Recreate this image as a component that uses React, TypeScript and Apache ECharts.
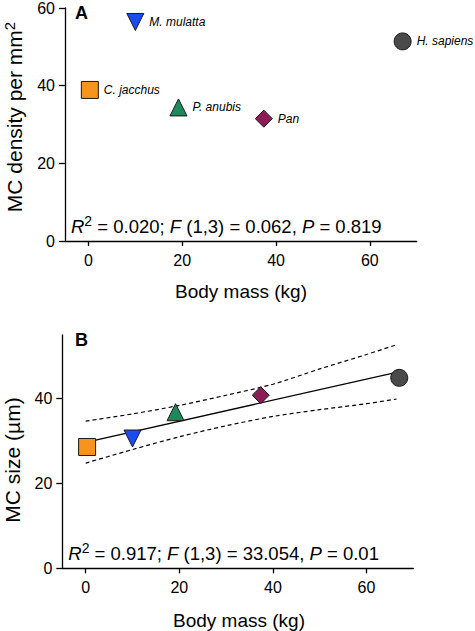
import React, { useEffect, useRef } from "react";
import * as echarts from "echarts";

const species = ["C. jacchus", "M. mulatta", "P. anubis", "Pan", "H. sapiens"];
const bodyMass = [0.3, 10, 19.2, 37.4, 67];
const mcDensity = [38.9, 56.4, 34.4, 31.5, 51.4];
const mcSize = [28.6, 30.6, 36.8, 40.8, 44.9];

const xTicks = [0, 20, 40, 60];
const yTicksA = [0, 20, 40, 60];
const yTicksB = [0, 20, 40];

// regression fit and 95% band for panel B
const fitX = [0, 66.4];
const fitY = [29.7, 46.2];
const bandX = [0, 10, 20, 30, 40, 50, 60, 66.4];
const bandUpper = [34.7, 36.4, 38.4, 40.8, 43.4, 47.0, 50.4, 52.7];
const bandLower = [24.8, 28.0, 31.0, 33.6, 35.8, 37.4, 38.8, 39.9];

const statsA = ["0.020", "1,3", "0.062", "0.819"];
const statsB = ["0.917", "1,3", "33.054", "0.01"];

const FONT = "'Liberation Sans', Arial, Helvetica, sans-serif";
const symbols = ["rect", "triangle", "triangle", "diamond", "circle"];
const rotations = [0, 180, 0, 0, 0];
const colors = ["#F7941D", "#1A4CF0", "#1C8A5A", "#8C1C55", "#4A4A4A"];

function statText(s: string[]) {
  return `{it|R}{sup|2}{n| = ${s[0]}; }{it|F}{n| (${s[1]}) = ${s[2]}, }{it|P}{n| = ${s[3]}}`;
}

function pointData(ys: number[]) {
  return species.map((name, i) => ({
    name,
    value: [bodyMass[i], ys[i]],
    symbol: symbols[i],
    symbolRotate: rotations[i],
    itemStyle: { color: colors[i], borderColor: "#1a1a1a", borderWidth: 1, opacity: 1 },
  }));
}

const axisCommon = {
  axisLine: { show: true, onZero: false, lineStyle: { color: "#000", width: 1.3 } },
  axisTick: { show: true, length: 6, lineStyle: { color: "#000", width: 1.3 } },
  splitLine: { show: false },
};

export default function App() {
  const ref = useRef<HTMLDivElement>(null);
  useEffect(() => {
    if (!ref.current) return;
    const chart = echarts.init(ref.current, undefined, { renderer: "svg" });
    const richStyle = {
      it: { fontStyle: "italic", fontSize: 18.5, fontFamily: FONT, fill: "#000", lineHeight: 22, verticalAlign: "bottom" },
      n: { fontSize: 18.5, fontFamily: FONT, fill: "#000", lineHeight: 22, verticalAlign: "bottom" },
      sup: { fontSize: 14, fontFamily: FONT, fill: "#000", lineHeight: 22, verticalAlign: "top" },
    };
    const titleRich = {
      n: { fontSize: 21, fontFamily: FONT, fill: "#000", lineHeight: 23, verticalAlign: "bottom" },
      sup: { fontSize: 15, fontFamily: FONT, fill: "#000", lineHeight: 23, verticalAlign: "top" },
    };
    const option: any = {
      animation: false,
      grid: [
        { left: 65, top: 7, width: 351.7, height: 234 },
        { left: 62.3, top: 335, width: 351, height: 233.3 },
      ],
      xAxis: [0, 1].map((g) => ({
        type: "value",
        gridIndex: g,
        min: -5,
        max: 70,
        ...axisCommon,
        axisTick: { ...axisCommon.axisTick, length: 5, customValues: xTicks },
        axisLabel: { customValues: xTicks, fontSize: 16, fontFamily: FONT, color: "#000", margin: 11 },
      })),
      yAxis: [
        {
          type: "value",
          gridIndex: 0,
          min: 0,
          max: 60,
          ...axisCommon,
          axisTick: { ...axisCommon.axisTick, customValues: yTicksA },
          axisLabel: { customValues: yTicksA, fontSize: 16, fontFamily: FONT, color: "#000", margin: 10 },
        },
        {
          type: "value",
          gridIndex: 1,
          min: 0,
          max: 55,
          ...axisCommon,
          axisTick: { ...axisCommon.axisTick, customValues: yTicksB },
          axisLabel: { customValues: yTicksB, fontSize: 16, fontFamily: FONT, color: "#000", margin: 10 },
        },
      ],
      series: [
        {
          type: "scatter",
          xAxisIndex: 0,
          yAxisIndex: 0,
          symbolSize: 17,
          data: pointData(mcDensity),
          label: {
            show: true,
            position: "right",
            distance: 5,
            formatter: "{b}",
            fontStyle: "italic",
            fontSize: 12,
            fontFamily: FONT,
            color: "#000",
          },
          z: 3,
        },
        {
          type: "line",
          xAxisIndex: 1,
          yAxisIndex: 1,
          data: fitX.map((x, i) => [x, fitY[i]]),
          symbol: "none",
          lineStyle: { color: "#000", width: 1.3 },
          z: 2,
        },
        {
          type: "line",
          xAxisIndex: 1,
          yAxisIndex: 1,
          smooth: 0.3,
          data: bandX.map((x, i) => [x, bandUpper[i]]),
          symbol: "none",
          lineStyle: { color: "#000", width: 1.2, type: [4, 3] },
          z: 2,
        },
        {
          type: "line",
          xAxisIndex: 1,
          yAxisIndex: 1,
          smooth: 0.3,
          data: bandX.map((x, i) => [x, bandLower[i]]),
          symbol: "none",
          lineStyle: { color: "#000", width: 1.2, type: [4, 3] },
          z: 2,
        },
        {
          type: "scatter",
          xAxisIndex: 1,
          yAxisIndex: 1,
          symbolSize: 17,
          data: pointData(mcSize),
          z: 3,
        },
      ],
      graphic: [
        {
          type: "text",
          x: 13,
          y: 117,
          rotation: Math.PI / 2,
          style: { text: "{n|MC density per mm}{sup|2}", rich: titleRich, align: "center", verticalAlign: "middle" },
        },
        {
          type: "text",
          x: 12,
          y: 460,
          rotation: Math.PI / 2,
          style: { text: "MC size (µm)", fontSize: 21, fontFamily: FONT, fill: "#000", align: "center", verticalAlign: "middle" },
        },
        {
          type: "text",
          x: 241,
          y: 291,
          style: { text: "Body mass (kg)", fontSize: 19, fontFamily: FONT, fill: "#000", align: "center", verticalAlign: "middle" },
        },
        {
          type: "text",
          x: 239,
          y: 620,
          style: { text: "Body mass (kg)", fontSize: 19, fontFamily: FONT, fill: "#000", align: "center", verticalAlign: "middle" },
        },
        {
          type: "text",
          x: 75,
          y: 13.2,
          style: { text: "A", fontSize: 18, fontWeight: "bold", fontFamily: FONT, fill: "#000", align: "left", verticalAlign: "middle" },
        },
        {
          type: "text",
          x: 75,
          y: 340,
          style: { text: "B", fontSize: 18, fontWeight: "bold", fontFamily: FONT, fill: "#000", align: "left", verticalAlign: "middle" },
        },
        {
          type: "text",
          x: 71,
          y: 236,
          style: { text: statText(statsA), rich: richStyle, align: "left", verticalAlign: "bottom" },
        },
        {
          type: "text",
          x: 68.3,
          y: 563,
          style: { text: statText(statsB), rich: richStyle, align: "left", verticalAlign: "bottom" },
        },
      ],
    };
    chart.setOption(option);
    return () => chart.dispose();
  }, []);
  return (
    <div
      ref={ref}
      style={{ position: "absolute", left: 0, top: 0, width: 475, height: 631, background: "#fff" }}
    />
  );
}
